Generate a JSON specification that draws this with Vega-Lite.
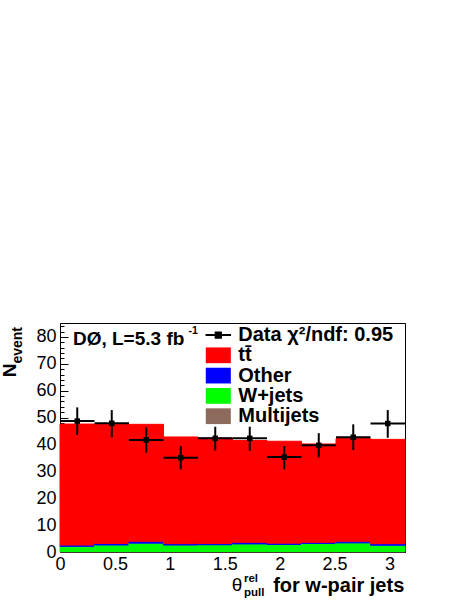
{
  "$schema": "https://vega.github.io/schema/vega-lite/v6.json",
  "width": 345,
  "height": 229,
  "autosize": "none",
  "padding": {"left": 60, "top": 323, "right": 59, "bottom": 48},
  "background": "white",
  "config": {
    "font": "Liberation Sans",
    "view": {"stroke": "black", "strokeWidth": 1},
    "axis": {"grid": false, "domainColor": "black", "tickColor": "black", "labelColor": "black", "labelFont": "Liberation Sans"}
  },
  "datasets": {
    "mc": [
      {"lo": 0, "hi": 0.314159, "comp": "Multijets", "k": 1, "v": 0.2},
      {"lo": 0, "hi": 0.314159, "comp": "W+jets", "k": 2, "v": 1.9},
      {"lo": 0, "hi": 0.314159, "comp": "Other", "k": 3, "v": 0.5},
      {"lo": 0, "hi": 0.314159, "comp": "tt̄", "k": 4, "v": 45.0},
      {"lo": 0.314159, "hi": 0.628319, "comp": "Multijets", "k": 1, "v": 0.2},
      {"lo": 0.314159, "hi": 0.628319, "comp": "W+jets", "k": 2, "v": 2.4},
      {"lo": 0.314159, "hi": 0.628319, "comp": "Other", "k": 3, "v": 0.6},
      {"lo": 0.314159, "hi": 0.628319, "comp": "tt̄", "k": 4, "v": 44.3},
      {"lo": 0.628319, "hi": 0.942478, "comp": "Multijets", "k": 1, "v": 0.2},
      {"lo": 0.628319, "hi": 0.942478, "comp": "W+jets", "k": 2, "v": 3.1},
      {"lo": 0.628319, "hi": 0.942478, "comp": "Other", "k": 3, "v": 0.7},
      {"lo": 0.628319, "hi": 0.942478, "comp": "tt̄", "k": 4, "v": 43.5},
      {"lo": 0.942478, "hi": 1.256637, "comp": "Multijets", "k": 1, "v": 0.2},
      {"lo": 0.942478, "hi": 1.256637, "comp": "W+jets", "k": 2, "v": 2.4},
      {"lo": 0.942478, "hi": 1.256637, "comp": "Other", "k": 3, "v": 0.5},
      {"lo": 0.942478, "hi": 1.256637, "comp": "tt̄", "k": 4, "v": 39.7},
      {"lo": 1.256637, "hi": 1.570796, "comp": "Multijets", "k": 1, "v": 0.2},
      {"lo": 1.256637, "hi": 1.570796, "comp": "W+jets", "k": 2, "v": 2.5},
      {"lo": 1.256637, "hi": 1.570796, "comp": "Other", "k": 3, "v": 0.5},
      {"lo": 1.256637, "hi": 1.570796, "comp": "tt̄", "k": 4, "v": 39.2},
      {"lo": 1.570796, "hi": 1.884956, "comp": "Multijets", "k": 1, "v": 0.2},
      {"lo": 1.570796, "hi": 1.884956, "comp": "W+jets", "k": 2, "v": 2.8},
      {"lo": 1.570796, "hi": 1.884956, "comp": "Other", "k": 3, "v": 0.6},
      {"lo": 1.570796, "hi": 1.884956, "comp": "tt̄", "k": 4, "v": 37.9},
      {"lo": 1.884956, "hi": 2.199115, "comp": "Multijets", "k": 1, "v": 0.2},
      {"lo": 1.884956, "hi": 2.199115, "comp": "W+jets", "k": 2, "v": 2.6},
      {"lo": 1.884956, "hi": 2.199115, "comp": "Other", "k": 3, "v": 0.5},
      {"lo": 1.884956, "hi": 2.199115, "comp": "tt̄", "k": 4, "v": 37.9},
      {"lo": 2.199115, "hi": 2.513274, "comp": "Multijets", "k": 1, "v": 0.2},
      {"lo": 2.199115, "hi": 2.513274, "comp": "W+jets", "k": 2, "v": 3.0},
      {"lo": 2.199115, "hi": 2.513274, "comp": "Other", "k": 3, "v": 0.4},
      {"lo": 2.199115, "hi": 2.513274, "comp": "tt̄", "k": 4, "v": 36.6},
      {"lo": 2.513274, "hi": 2.827433, "comp": "Multijets", "k": 1, "v": 0.2},
      {"lo": 2.513274, "hi": 2.827433, "comp": "W+jets", "k": 2, "v": 3.2},
      {"lo": 2.513274, "hi": 2.827433, "comp": "Other", "k": 3, "v": 0.6},
      {"lo": 2.513274, "hi": 2.827433, "comp": "tt̄", "k": 4, "v": 38.2},
      {"lo": 2.827433, "hi": 3.141593, "comp": "Multijets", "k": 1, "v": 0.2},
      {"lo": 2.827433, "hi": 3.141593, "comp": "W+jets", "k": 2, "v": 2.3},
      {"lo": 2.827433, "hi": 3.141593, "comp": "Other", "k": 3, "v": 0.6},
      {"lo": 2.827433, "hi": 3.141593, "comp": "tt̄", "k": 4, "v": 38.8}
    ],
    "obs": [
      {"lo": 0, "hi": 0.314159, "c": 0.15708, "v": 48.7, "elo": 43.5, "ehi": 53.8},
      {"lo": 0.314159, "hi": 0.628319, "c": 0.471239, "v": 47.9, "elo": 42.7, "ehi": 52.8},
      {"lo": 0.628319, "hi": 0.942478, "c": 0.785398, "v": 41.7, "elo": 36.9, "ehi": 46.4},
      {"lo": 0.942478, "hi": 1.256637, "c": 1.099557, "v": 35.1, "elo": 30.8, "ehi": 39.4},
      {"lo": 1.256637, "hi": 1.570796, "c": 1.413717, "v": 42.3, "elo": 37.7, "ehi": 46.6},
      {"lo": 1.570796, "hi": 1.884956, "c": 1.727876, "v": 42.3, "elo": 37.6, "ehi": 46.6},
      {"lo": 1.884956, "hi": 2.199115, "c": 2.042035, "v": 35.3, "elo": 30.8, "ehi": 39.4},
      {"lo": 2.199115, "hi": 2.513274, "c": 2.356194, "v": 39.7, "elo": 35.2, "ehi": 44.2},
      {"lo": 2.513274, "hi": 2.827433, "c": 2.670354, "v": 42.7, "elo": 38.0, "ehi": 47.5},
      {"lo": 2.827433, "hi": 3.141593, "c": 2.984513, "v": 47.8, "elo": 42.5, "ehi": 52.8}
    ]
  },
  "layer": [
    {
      "data": {"name": "mc"},
      "transform": [{"stack": "v", "groupby": ["lo"], "sort": [{"field": "k", "order": "ascending"}], "as": ["y0", "y1"]}],
      "mark": {"type": "bar", "strokeWidth": 1, "strokeOpacity": 1},
      "encoding": {
        "x": {"field": "lo", "type": "quantitative", "scale": {"domain": [0, 3.14159265], "nice": false, "zero": false},
          "axis": {"orient": "bottom", "values": [0, 0.5, 1, 1.5, 2, 2.5, 3], "format": "~g", "tickSize": -8, "labelFontSize": 18, "labelPadding": 11, "labelFlush": false, "labelOverlap": false, "title": null, "domainColor": "black"}},
        "x2": {"field": "hi"},
        "y": {"field": "y0", "type": "quantitative", "scale": {"domain": [0, 85.2], "nice": false},
          "axis": {"orient": "left", "values": [0, 10, 20, 30, 40, 50, 60, 70, 80], "tickSize": -8, "labelFontSize": 18, "labelPadding": 12, "labelFlush": false, "labelOverlap": false, "title": null}},
        "y2": {"field": "y1"},
        "stroke": {
          "field": "comp", "type": "nominal",
          "scale": {"domain": ["Data χ²/ndf: 0.95", "tt̄", "Other", "W+jets", "Multijets"], "range": ["black", "#ff0000", "#0000ff", "#00ff00", "#8c6b5c"]},
          "legend": null
        },
        "color": {
          "field": "comp", "type": "nominal",
          "scale": {"domain": ["Data χ²/ndf: 0.95", "tt̄", "Other", "W+jets", "Multijets"], "range": ["black", "#ff0000", "#0000ff", "#00ff00", "#8c6b5c"]},
          "legend": {
            "orient": "none", "legendX": 148.3, "legendY": 2, "title": null,
            "labelFont": "Liberation Sans", "labelFontSize": 20, "labelFontWeight": "bold", "labelColor": "black",
            "symbolSize": 225, "labelOffset": 10, "rowPadding": 0.3, "padding": 0, "labelLimit": 300,
            "symbolType": "M-1.67,-1.05H1.67V1.05H-1.67Z",
            "encode": {"symbols": {"update": {
              "shape": {"signal": "datum.index === 0 ? 'M-1.7,0H1.7M-0.35,-0.35H0.35V0.35H-0.35Z' : 'M-1.67,-1.05H1.67V1.05H-1.67Z'"},
              "stroke": {"value": "black"},
              "strokeWidth": {"signal": "datum.index === 0 ? 2 : 0"}
            }}}
          }
        }
      }
    },
    {
      "data": {"name": "obs"},
      "mark": {"type": "rule", "strokeWidth": 2, "color": "black"},
      "encoding": {
        "x": {"field": "c", "type": "quantitative", "scale": {"domain": [0, 3.14159265], "nice": false, "zero": false},
          "axis": {"orient": "bottom", "values": [0.1, 0.2, 0.3, 0.4, 0.6, 0.7, 0.8, 0.9, 1.1, 1.2, 1.3, 1.4, 1.6, 1.7, 1.8, 1.9, 2.1, 2.2, 2.3, 2.4, 2.6, 2.7, 2.8, 2.9, 3.1], "tickSize": -4, "labels": false, "domain": false, "title": null}},
        "y": {"field": "elo", "type": "quantitative", "scale": {"domain": [0, 85.2], "nice": false},
          "axis": {"orient": "left", "values": [2, 4, 6, 8, 12, 14, 16, 18, 22, 24, 26, 28, 32, 34, 36, 38, 42, 44, 46, 48, 52, 54, 56, 58, 62, 64, 66, 68, 72, 74, 76, 78, 82, 84], "tickSize": -4, "labels": false, "domain": false, "title": null}},
        "y2": {"field": "ehi"}
      }
    },
    {
      "data": {"name": "obs"},
      "mark": {"type": "rule", "strokeWidth": 2, "color": "black"},
      "encoding": {
        "x": {"field": "lo", "type": "quantitative", "scale": {"domain": [0, 3.14159265], "nice": false, "zero": false}, "axis": null},
        "x2": {"field": "hi"},
        "y": {"field": "v", "type": "quantitative", "scale": {"domain": [0, 85.2], "nice": false}, "axis": null}
      }
    },
    {
      "data": {"name": "obs"},
      "mark": {"type": "point", "shape": "square", "filled": true, "size": 30, "color": "black", "opacity": 1},
      "encoding": {
        "x": {"field": "c", "type": "quantitative", "scale": {"domain": [0, 3.14159265], "nice": false, "zero": false}, "axis": null},
        "y": {"field": "v", "type": "quantitative", "scale": {"domain": [0, 85.2], "nice": false}, "axis": null}
      }
    },
    {
      "data": {"values": [{"x": 0.118, "y": 77.0, "t": "DØ, L=5.3 fb"}]},
      "mark": {"type": "text", "align": "left", "baseline": "alphabetic", "fontSize": 19, "fontWeight": "bold", "color": "black"},
      "encoding": {
        "x": {"field": "x", "type": "quantitative", "scale": {"domain": [0, 3.14159265], "nice": false, "zero": false}, "axis": null},
        "y": {"field": "y", "type": "quantitative", "scale": {"domain": [0, 85.2], "nice": false}, "axis": null},
        "text": {"field": "t"}
      }
    },
    {
      "data": {"values": [{"x": 3.135, "y": -14.8, "t": "for w-pair jets"}]},
      "mark": {"type": "text", "align": "right", "baseline": "alphabetic", "fontSize": 20, "fontWeight": "bold", "color": "black"},
      "encoding": {
        "x": {"field": "x", "type": "quantitative", "scale": {"domain": [0, 3.14159265], "nice": false, "zero": false}, "axis": null},
        "y": {"field": "y", "type": "quantitative", "scale": {"domain": [0, 85.2], "nice": false}, "axis": null},
        "text": {"field": "t"}
      }
    },
    {
      "data": {"values": [{"x": 1.17, "y": 81.1, "t": "-1"}]},
      "mark": {"type": "text", "align": "left", "baseline": "alphabetic", "fontSize": 10.5, "fontWeight": "bold", "color": "black"},
      "encoding": {
        "x": {"field": "x", "type": "quantitative", "scale": {"domain": [0, 3.14159265], "nice": false, "zero": false}, "axis": null},
        "y": {"field": "y", "type": "quantitative", "scale": {"domain": [0, 85.2], "nice": false}, "axis": null},
        "text": {"field": "t"}
      }
    },
    {
      "data": {"values": [{"x": 1.563, "y": -14.5, "t": "θ"}]},
      "mark": {"type": "text", "align": "left", "baseline": "alphabetic", "fontSize": 19, "color": "black"},
      "encoding": {
        "x": {"field": "x", "type": "quantitative", "scale": {"domain": [0, 3.14159265], "nice": false, "zero": false}, "axis": null},
        "y": {"field": "y", "type": "quantitative", "scale": {"domain": [0, 85.2], "nice": false}, "axis": null},
        "text": {"field": "t"}
      }
    },
    {
      "data": {"values": [{"x": 1.675, "y": -11.3, "t": "rel"}, {"x": 1.675, "y": -16.4, "t": "pull"}]},
      "mark": {"type": "text", "align": "left", "baseline": "alphabetic", "fontSize": 11.5, "fontWeight": "bold", "color": "black"},
      "encoding": {
        "x": {"field": "x", "type": "quantitative", "scale": {"domain": [0, 3.14159265], "nice": false, "zero": false}, "axis": null},
        "y": {"field": "y", "type": "quantitative", "scale": {"domain": [0, 85.2], "nice": false}, "axis": null},
        "text": {"field": "t"}
      }
    },
    {
      "data": {"values": [{"x": -0.405, "y": 65.0, "t": "N"}]},
      "mark": {"type": "text", "align": "left", "baseline": "alphabetic", "angle": 270, "fontSize": 19, "fontWeight": "bold", "color": "black"},
      "encoding": {
        "x": {"field": "x", "type": "quantitative", "scale": {"domain": [0, 3.14159265], "nice": false, "zero": false}, "axis": null},
        "y": {"field": "y", "type": "quantitative", "scale": {"domain": [0, 85.2], "nice": false}, "axis": null},
        "text": {"field": "t"}
      }
    },
    {
      "data": {"values": [{"x": -0.346, "y": 70.1, "t": "event"}]},
      "mark": {"type": "text", "align": "left", "baseline": "alphabetic", "angle": 270, "fontSize": 14, "fontWeight": "bold", "color": "black"},
      "encoding": {
        "x": {"field": "x", "type": "quantitative", "scale": {"domain": [0, 3.14159265], "nice": false, "zero": false}, "axis": null},
        "y": {"field": "y", "type": "quantitative", "scale": {"domain": [0, 85.2], "nice": false}, "axis": null},
        "text": {"field": "t"}
      }
    }
  ],
  "resolve": {"axis": {"x": "independent", "y": "independent"}}
}
